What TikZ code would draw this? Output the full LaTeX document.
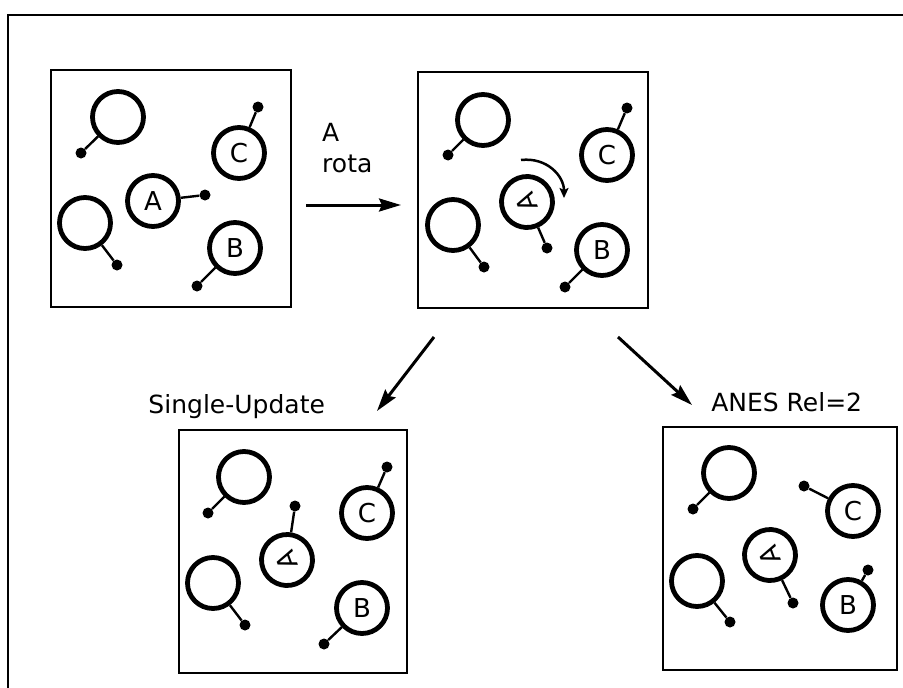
\documentclass[tikz,border=0pt]{standalone}
\usepackage{fontspec}
\setmainfont{DejaVu Sans}
\usetikzlibrary{arrows.meta}

% one particle: ring (#1) at #2 with label #3, tether knob at #4, extra ring style #5
\newcommand\drawmol[5]{%
  \node[ring,#5] (#1) at (#2) {#3};
  \node[knob] (#1k) at (#4) {};
  \draw[stick] (#1) -- (#1k);
}

\begin{document}
\begin{tikzpicture}[x=1pt,y=-1pt,
  panel/.style={draw, line width=1.6pt, inner sep=0pt},
  ring/.style={draw, circle, line width=4.8pt, minimum size=51pt, inner sep=0pt,
               font=\fontsize{26}{28}\selectfont},
  flipped/.style={rotate=110},
  knob/.style={circle, fill, minimum size=11pt, inner sep=0pt},
  stick/.style={line width=2.4pt},
  flow/.style={line width=3pt, -{Stealth[length=22pt, width=13pt, inset=3pt]}},
  turn/.style={line width=2.5pt, -{Stealth[length=10pt, width=9pt, inset=2pt]}},
  caption/.style={font=\fontsize{25}{30}\selectfont, inner sep=0pt}
]
\useasboundingbox (0,0) rectangle (903,688);
\fill[white] (0,0) rectangle (903,688);

% outer frame
\draw[line width=2.4pt] (903,15) -- (8,15) -- (8,688);

% panels
\node[panel, minimum width=240pt, minimum height=237pt] (p1) at (171,188.5) {};
\node[panel, minimum width=230pt, minimum height=236pt] (p2) at (533,190) {};
\node[panel, minimum width=228pt, minimum height=243pt] (p3) at (293,551.5) {};
\node[panel, minimum width=234pt, minimum height=243pt] (p4) at (780,548.5) {};

% panel 1: initial state
\drawmol{a1}{118,117}{}{81,153}{}
\drawmol{a2}{239,153}{C}{258,107}{}
\drawmol{a3}{153,201}{A}{205,195}{}
\drawmol{a4}{85,223}{}{117,265}{}
\drawmol{a5}{235,248}{B}{197,286}{}

% panel 2: A rotated
\drawmol{b1}{483,120}{}{448,155}{}
\drawmol{b2}{607,155}{C}{627,108}{}
\drawmol{b3}{527,202}{A}{547,248}{flipped}
\drawmol{b4}{453,225}{}{484,267}{}
\drawmol{b5}{602,250}{B}{565,287}{}
\coordinate (t1) at (521,160);
\coordinate (t2) at (564,198);
\draw[turn] (t1) .. controls (547,157) and (564,176) .. (t2);

% panel 3: single update
\drawmol{c1}{244,477}{}{208,513}{}
\drawmol{c2}{367,513}{C}{387,467}{}
\drawmol{c3}{287,560}{A}{295,506}{flipped}
\drawmol{c4}{213,583}{}{245,625}{}
\drawmol{c5}{362,608}{B}{324,644}{}

% panel 4: ANES
\drawmol{d1}{729,473}{}{693,509}{}
\drawmol{d2}{853,511}{C}{804,486}{}
\drawmol{d3}{770,555}{A}{793,603}{flipped}
\drawmol{d4}{697,581}{}{730,622}{}
\drawmol{d5}{848,605}{B}{868,570}{}

% transitions
\coordinate (h1) at (306,205);
\coordinate (h2) at (401,205);
\draw[flow] (h1) -- (h2);
\node[caption, anchor=base west] (lab1) at (322,141.5) {A};
\node[caption, anchor=base west] (lab2) at (322,172.5) {rota};

\coordinate (l1) at (434,337);
\coordinate (l2) at (377,411);
\draw[flow] (l1) -- (l2);
\coordinate (r1) at (618,337);
\coordinate (r2) at (692,405);
\draw[flow] (r1) -- (r2);

\node[caption, anchor=base] (lab3) at (236.7,413) {Single-Update};
\node[caption, anchor=base] (lab4) at (786.7,411.5) {ANES Rel=2};
\end{tikzpicture}
\end{document}
